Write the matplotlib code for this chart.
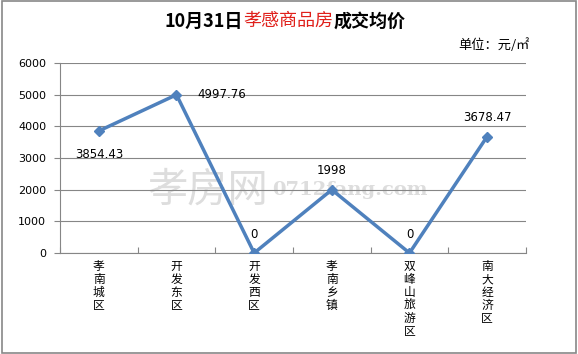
import numpy as np
import matplotlib.pyplot as plt
from matplotlib.patches import Rectangle

plt.rcParams['font.family'] = ['Noto Sans CJK SC', 'DejaVu Sans']

# 数据
areas = ['孝南城区', '开发东区', '开发西区', '孝南乡镇', '双峰山旅游区', '南大经济区']
prices = [3854.43, 4997.76, 0, 1998, 0, 3678.47]
labels = ['3854.43', '4997.76', '0', '1998', '0', '3678.47']
yticks = [0, 1000, 2000, 3000, 4000, 5000, 6000]

fig = plt.figure(figsize=(5.78, 3.54), dpi=100)
ax = fig.add_axes([0.1038, 0.2853, 0.8062, 0.5367])

x = np.arange(len(areas))
ax.plot(x, prices, color='#4F81BD', lw=2.5, marker='D', ms=5, zorder=3)

ax.set_xlim(-0.5, len(areas) - 0.5)
ax.set_ylim(0, 6000)
ax.set_yticks(yticks)
ax.set_yticklabels([str(v) for v in yticks], fontsize=8, family='DejaVu Sans')
ax.yaxis.grid(True, color='#868686', lw=0.8, zorder=1)
ax.tick_params(axis='y', length=4, color='#868686', pad=6)

# 类别刻度在分隔处
ax.set_xticks(np.arange(len(areas) + 1) - 0.5)
ax.set_xticklabels([])
ax.tick_params(axis='x', length=4, color='#868686', direction='in')
for i, name in enumerate(areas):
    ax.text(i, -230, '\n'.join(name), ha='center', va='top', fontsize=8.5,
            linespacing=1.0, transform=ax.transData)

for s in ['top', 'right']:
    ax.spines[s].set_visible(False)
ax.spines['left'].set_color('#868686')
ax.spines['bottom'].set_color('#868686')

# 数据标签
offsets = [(0, -12, 'center', 'top'), (15, 0, 'left', 'center'),
           (0, 9, 'center', 'bottom'), (0, 9, 'center', 'bottom'),
           (0, 9, 'center', 'bottom'), (0, 9, 'center', 'bottom')]
for i, (v, t) in enumerate(zip(prices, labels)):
    dx, dy, ha, va = offsets[i]
    ax.annotate(t, (i, v), xytext=(dx, dy), textcoords='offset points',
                ha=ha, va=va, fontsize=8.5, family='DejaVu Sans')

# 水印
ax.text(0.256, 0.463, '孝房网', fontsize=29, color='#dddddd', ha='left', va='center',
        transform=fig.transFigure, zorder=0.5)
ax.text(0.47, 0.463, '0712fang.com', fontsize=14, color='#dddddd',
        family='DejaVu Serif', fontweight='bold', ha='left', va='center',
        transform=fig.transFigure, zorder=0.5)

# 标题（分段着色）
parts = [('10月31日', 'black', 'bold'), ('孝感商品房', '#E0201B', 'normal'), ('成交均价', 'black', 'bold')]
renderer = fig.canvas.get_renderer()
xpos = 165
for txt, col, wt in parts:
    t = fig.text(xpos / 578, 1 - 21 / 354, txt, fontsize=13, color=col, fontweight=wt,
                 ha='left', va='center')
    xpos += t.get_window_extent(renderer).width
fig.text(530 / 578, 1 - 45 / 354, '单位：元/㎡', fontsize=9.5, ha='right', va='center')

fig.patches.append(Rectangle((0.003, 0.004), 0.994, 0.992, transform=fig.transFigure,
                             fill=False, ec='#888888', lw=1.2))

plt.savefig('out.png', dpi=100)
